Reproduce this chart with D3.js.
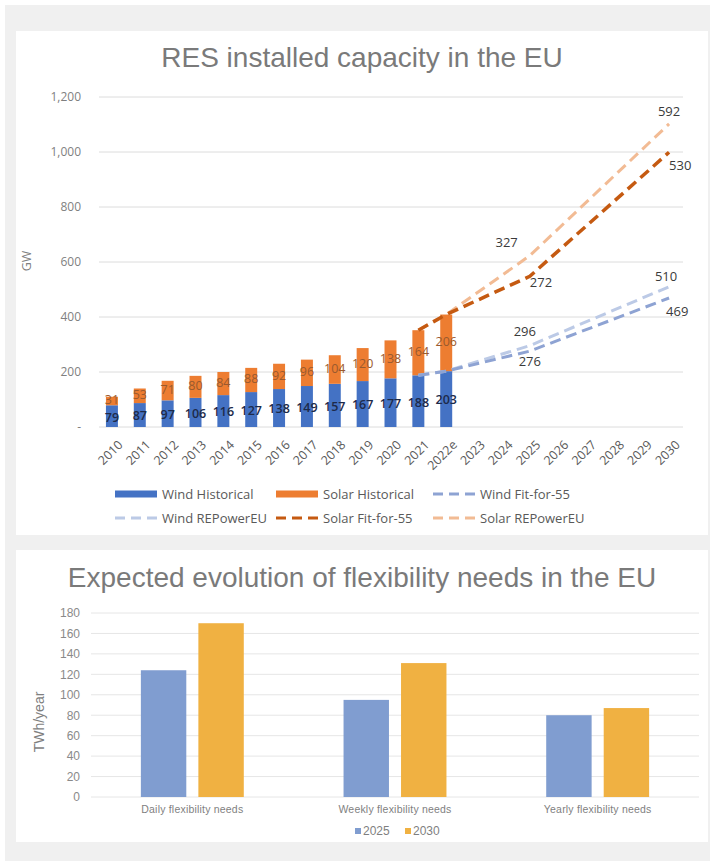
<!DOCTYPE html>
<html>
<head>
<meta charset="utf-8">
<script src="https://cdn.jsdelivr.net/npm/d3@7"></script>
<style>
  html, body { margin: 0; padding: 0; background: #ffffff; }
  svg { display: block; }
</style>
</head>
<body>
<svg id="chart" width="710" height="861"></svg>
<script>
// ---------- DATA: top chart ----------
const years = ["2010","2011","2012","2013","2014","2015","2016","2017","2018","2019","2020","2021","2022e",
               "2023","2024","2025","2026","2027","2028","2029","2030"];
const histYears = ["2010","2011","2012","2013","2014","2015","2016","2017","2018","2019","2020","2021","2022e"];
const windHistorical  = [79, 87, 97, 106, 116, 127, 138, 149, 157, 167, 177, 188, 203];
const solarHistorical = [31, 53, 71, 80, 84, 88, 92, 96, 104, 120, 138, 164, 206];

const projYears = ["2021", "2022e", "2025", "2030"];
const windFitFor55   = [188, 203, 276, 469];
const windREPowerEU  = [188, 203, 296, 510];
const solarFitFor55  = [164, 206, 272, 530];
const solarREPowerEU = [164, 206, 327, 592];
const labelledYears = ["2025", "2030"];

const topTicks = [0, 200, 400, 600, 800, 1000, 1200];
const topTickLabels = ["-", "200", "400", "600", "800", "1,000", "1,200"];

// ---------- DATA: bottom chart ----------
const flexCategories = ["Daily flexibility needs", "Weekly flexibility needs", "Yearly flexibility needs"];
const flexSeries = ["2025", "2030"];
const flex2025 = [124, 95, 80];
const flex2030 = [170, 131, 87];
const bottomTicks = [0, 20, 40, 60, 80, 100, 120, 140, 160, 180];

// ---------- STYLE ----------
const C = {
  wind: "#4472c4", solar: "#ed7d31",
  windFF: "#8ea3d3", windREP: "#bccae6",
  solarFF: "#c55a11", solarREP: "#f2bb94",
  f2025: "#809dd0", f2030: "#f0b142",
  grid: "#dcdcdc", axisText: "#7f7f7f", legendText: "#595959"
};
const FONT = "'Open Sans', 'Liberation Sans', Arial, sans-serif";
const ARIAL = "'Liberation Sans', Arial, sans-serif";

const svg = d3.select("#chart");

// backgrounds
svg.append("rect").attr("x", 5).attr("y", 5).attr("width", 705).attr("height", 856).attr("fill", "#f0f0f0");
svg.append("rect").attr("x", 16).attr("y", 31).attr("width", 692).attr("height", 504).attr("fill", "#ffffff");
svg.append("rect").attr("x", 16).attr("y", 550).attr("width", 692).attr("height", 292).attr("fill", "#ffffff");

// ================= TOP CHART =================
const topG = svg.append("g");
topG.append("text").attr("x", 362).attr("y", 67).attr("text-anchor", "middle")
  .attr("font-family", ARIAL).attr("font-size", 28).attr("fill", "#7a7a7a")
  .text("RES installed capacity in the EU");

const yT = d3.scaleLinear().domain([0, 1200]).range([427, 97]);
const xT = d3.scaleBand().domain(years).range([98, 683]).paddingInner(0.57).paddingOuter(0.285);
const cx = y => xT(y) + xT.bandwidth() / 2;

// gridlines
topG.append("g").selectAll("line").data(topTicks).join("line")
  .attr("x1", 99).attr("x2", 683)
  .attr("y1", d => yT(d)).attr("y2", d => yT(d))
  .attr("stroke", C.grid).attr("stroke-width", 1);

// y axis labels
const yAxisT = d3.axisLeft(yT).tickValues(topTicks).tickSize(0).tickPadding(0)
  .tickFormat((d, i) => topTickLabels[i]);
const gyT = topG.append("g").attr("transform", "translate(81,0)").call(yAxisT);
gyT.select(".domain").remove();
gyT.selectAll("text").attr("font-family", FONT).attr("font-size", 12).attr("fill", C.axisText);

topG.append("text").attr("transform", "translate(31,261) rotate(-90)").attr("text-anchor", "middle")
  .attr("font-family", FONT).attr("font-size", 12.5).attr("fill", C.axisText).text("GW");

// x axis labels
const xAxisT = d3.axisBottom(xT).tickSize(0).tickPadding(0);
const gxT = topG.append("g").attr("transform", "translate(0,432)").call(xAxisT);
gxT.select(".domain").remove();
gxT.selectAll("text")
  .attr("font-family", FONT).attr("font-size", 12.5).attr("fill", C.legendText)
  .attr("text-anchor", "end").attr("y", 0).attr("dy", "0.75em")
  .attr("transform", "translate(5,7) rotate(-45)");

// stacked bars
const histRows = histYears.map((y, i) => ({ year: y, wind: windHistorical[i], solar: solarHistorical[i] }));
const stack = d3.stack().keys(["wind", "solar"])(histRows);
const barColor = { wind: C.wind, solar: C.solar };
topG.append("g").selectAll("g").data(stack).join("g")
  .attr("fill", s => barColor[s.key])
  .selectAll("rect").data(s => s).join("rect")
  .attr("x", d => xT(d.data.year)).attr("width", xT.bandwidth())
  .attr("y", d => yT(d[1])).attr("height", d => yT(d[0]) - yT(d[1]));

// projection lines (solar stacked on wind of the same scenario)
const mk = (vals, base) => projYears.map((y, i) => ({ year: y, value: vals[i] + (base ? base[i] : 0), label: vals[i] }));
const lineSeries = [
  { key: "windREP", color: C.windREP, width: 3, pts: mk(windREPowerEU) },
  { key: "windFF", color: C.windFF, width: 3, pts: mk(windFitFor55) },
  { key: "solarREP", color: C.solarREP, width: 3, pts: mk(solarREPowerEU, windREPowerEU) },
  { key: "solarFF", color: C.solarFF, width: 3.5, pts: mk(solarFitFor55, windFitFor55) }
];
const line = d3.line().x(d => cx(d.year)).y(d => yT(d.value));
topG.append("g").selectAll("path").data(lineSeries).join("path")
  .attr("d", s => line(s.pts)).attr("fill", "none")
  .attr("stroke", s => s.color).attr("stroke-width", s => s.width)
  .attr("stroke-dasharray", "11,6");

// bar value labels
const segLabels = [];
stack.forEach(s => s.forEach(d => segLabels.push({ key: s.key, year: d.data.year, v: d.data[s.key], mid: (d[0] + d[1]) / 2 })));
topG.append("g").selectAll("text").data(segLabels).join("text")
  .attr("x", d => cx(d.year)).attr("y", d => yT(d.mid) + (d.key === "solar" ? -1 : 1)).attr("dy", "0.35em")
  .attr("text-anchor", "middle").attr("font-family", FONT).attr("font-size", 12.5)
  .attr("font-weight", d => d.key === "wind" ? 600 : 400)
  .attr("fill", d => d.key === "wind" ? "#1d2a4a" : "#9a5a2e")
  .text(d => d.v);

// projection labels placement (offsets from the point)
const labelOffsets = {
  windREP:  { "2025": [-5, -14, "middle"], "2030": [-3, -10, "middle"] },
  windFF:   { "2025": [0, 10, "middle"],   "2030": [-3, 13, "start"] },
  solarREP: { "2025": [-12, -13, "end"],   "2030": [0, -13, "middle"] },
  solarFF:  { "2025": [0, 6, "start"],     "2030": [0, 13, "start"] }
};
const projLabels = [];
lineSeries.forEach(s => s.pts.filter(p => labelledYears.includes(p.year))
  .forEach(p => projLabels.push({ key: s.key, year: p.year, value: p.value, label: p.label })));
topG.append("g").selectAll("text").data(projLabels).join("text")
  .attr("x", d => cx(d.year) + labelOffsets[d.key][d.year][0])
  .attr("y", d => yT(d.value) + labelOffsets[d.key][d.year][1])
  .attr("dy", "0.35em").attr("text-anchor", d => labelOffsets[d.key][d.year][2])
  .attr("font-family", FONT).attr("font-size", 13).attr("fill", "#3a3a3a")
  .text(d => d.label);

// legend
const legendItems = [
  { name: "Wind Historical", type: "bar", color: C.wind, x: 115, y: 494 },
  { name: "Solar Historical", type: "bar", color: C.solar, x: 276, y: 494 },
  { name: "Wind Fit-for-55", type: "line", color: C.windFF, x: 433, y: 494 },
  { name: "Wind REPowerEU", type: "line", color: C.windREP, x: 115, y: 518 },
  { name: "Solar Fit-for-55", type: "line", color: C.solarFF, x: 276, y: 518 },
  { name: "Solar REPowerEU", type: "line", color: C.solarREP, x: 433, y: 518 }
];
const lg = topG.append("g").selectAll("g").data(legendItems).join("g")
  .attr("transform", d => `translate(${d.x},${d.y})`);
lg.filter(d => d.type === "bar").append("rect")
  .attr("x", 0).attr("y", -3.5).attr("width", 42).attr("height", 7).attr("fill", d => d.color);
lg.filter(d => d.type === "line").append("line")
  .attr("x1", 0).attr("x2", 42).attr("y1", 0).attr("y2", 0)
  .attr("stroke", d => d.color).attr("stroke-width", 3).attr("stroke-dasharray", "10,6");
lg.append("text").attr("x", 47).attr("y", 0).attr("dy", "0.35em")
  .attr("font-family", FONT).attr("font-size", 13).attr("fill", C.legendText)
  .text(d => d.name);

// ================= BOTTOM CHART =================
const botG = svg.append("g");
botG.append("text").attr("x", 362).attr("y", 587).attr("text-anchor", "middle")
  .attr("font-family", ARIAL).attr("font-size", 28).attr("fill", "#7a7a7a")
  .text("Expected evolution of flexibility needs in the EU");

const yB = d3.scaleLinear().domain([0, 180]).range([797, 613]);
const xB = d3.scaleBand().domain(flexCategories).range([91, 699]);
const xSub = d3.scaleBand().domain(flexSeries).range([0, xB.bandwidth()]).paddingInner(0.21).paddingOuter(0.8675);

botG.append("g").selectAll("line").data(bottomTicks).join("line")
  .attr("x1", 91).attr("x2", 699)
  .attr("y1", d => yB(d)).attr("y2", d => yB(d))
  .attr("stroke", "#e6e6e6").attr("stroke-width", 1);

const gyB = botG.append("g").attr("transform", "translate(80,0)")
  .call(d3.axisLeft(yB).tickValues(bottomTicks).tickSize(0).tickPadding(0));
gyB.select(".domain").remove();
gyB.selectAll("text").attr("font-family", ARIAL).attr("font-size", 12).attr("fill", "#8a8a8a");

botG.append("text").attr("transform", "translate(44,722) rotate(-90)").attr("text-anchor", "middle")
  .attr("font-family", ARIAL).attr("font-size", 14).attr("fill", "#7f7f7f").text("TWh/year");

const flexRows = flexCategories.map((c, i) => ({ cat: c, "2025": flex2025[i], "2030": flex2030[i] }));
const fColor = { "2025": C.f2025, "2030": C.f2030 };
botG.append("g").selectAll("g").data(flexRows).join("g")
  .attr("transform", d => `translate(${xB(d.cat)},0)`)
  .selectAll("rect").data(d => flexSeries.map(k => ({ k, v: d[k] }))).join("rect")
  .attr("x", d => xSub(d.k)).attr("width", xSub.bandwidth())
  .attr("y", d => yB(d.v)).attr("height", d => yB(0) - yB(d.v))
  .attr("fill", d => fColor[d.k]);

const gxB = botG.append("g").attr("transform", "translate(0,797)")
  .call(d3.axisBottom(xB).tickSize(0).tickPadding(0));
gxB.select(".domain").remove();
gxB.selectAll("text").attr("font-family", ARIAL).attr("font-size", 10.5).attr("fill", "#7f7f7f")
  .attr("y", 16).attr("dy", 0).attr("letter-spacing", "0.2px");

const blg = botG.append("g").selectAll("g").data(flexSeries).join("g")
  .attr("transform", (d, i) => `translate(${355 + i * 50},831)`);
blg.append("rect").attr("x", 0).attr("y", -3).attr("width", 6).attr("height", 6).attr("fill", d => fColor[d]);
blg.append("text").attr("x", 8).attr("y", 0).attr("dy", "0.35em")
  .attr("font-family", ARIAL).attr("font-size", 12).attr("fill", "#7f7f7f").text(d => d);
</script>
</body>
</html>
